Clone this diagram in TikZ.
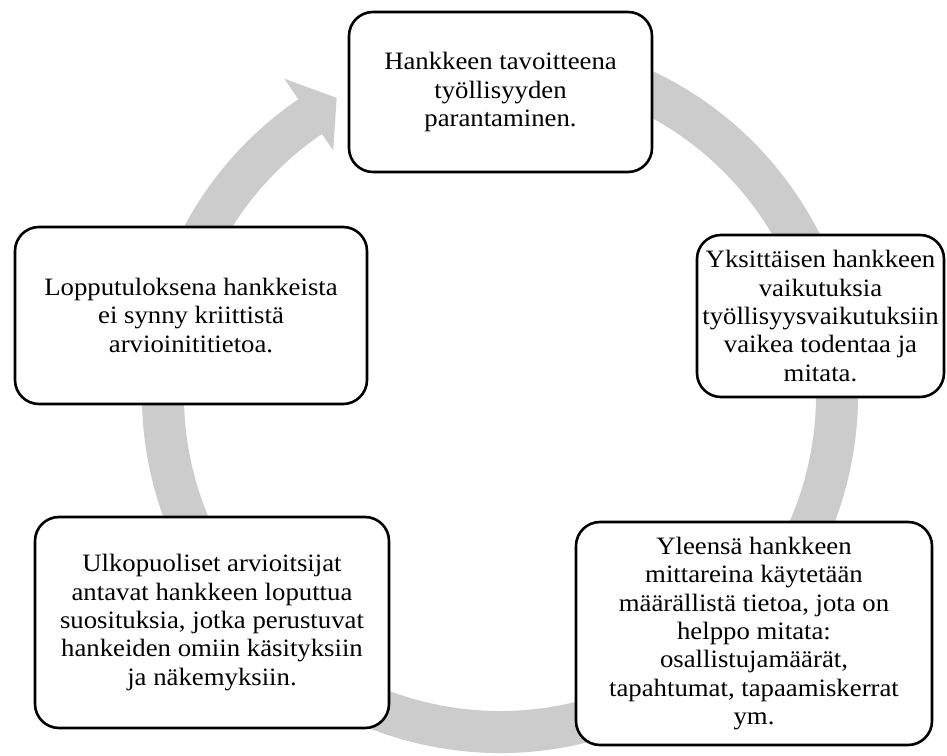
\documentclass[tikz,border=0pt]{standalone}
\usepackage{fontspec}
\setmainfont[FakeStretch=1.07]{Liberation Serif}
\usetikzlibrary{calc}
\definecolor{ringgray}{RGB}{204,204,204}
\tikzset{
  stagebox/.style={draw=black, line width=2.6pt, fill=white, rounded corners=24pt,
    align=center, inner sep=4pt, font=\fontsize{25}{28.3}\selectfont},
}
\begin{document}
\begin{tikzpicture}[x=1pt,y=1pt]
\useasboundingbox (0,0) rectangle (947,755);
\coordinate (C) at (500,360);
% ring arrow
\fill[ringgray]
  ($(C)+(78:358)$) arc[start angle=78, end angle=-235.7, radius=358]
  -- ($(C)+(124.3:383)$)
  -- ($(C)+(118.8:339)$)
  -- ($(C)+(124.3:296)$)
  -- ($(C)+(124.3:316)$)
  arc[start angle=-235.7, end angle=78, radius=316]
  -- cycle;
% boxes
\node[stagebox, minimum width=303pt, minimum height=160pt] (top) at (500.5,663)
  {Hankkeen tavoitteena\\työllisyyden\\parantaminen.};
\node[stagebox, minimum width=247pt, minimum height=162pt] (right) at (820.5,439)
  {Yksittäisen hankkeen\\vaikutuksia\\työllisyysvaikutuksiin\\vaikea todentaa ja\\mitata.};
\node[stagebox, minimum width=352pt, minimum height=177pt] (left) at (191,439.5)
  {Lopputuloksena hankkeista\\ei synny kriittistä\\arvioinititietoa.};
\node[stagebox, minimum width=354pt, minimum height=211pt] (bl) at (212,132.5)
  {Ulkopuoliset arvioitsijat\\antavat hankkeen loputtua\\suosituksia, jotka perustuvat\\hankeiden omiin käsityksiin\\ja näkemyksiin.};
\node[stagebox, minimum width=356pt, minimum height=223pt] (br) at (754,121.5)
  {Yleensä hankkeen\\mittareina käytetään\\määrällistä tietoa, jota on\\helppo mitata:\\osallistujamäärät,\\tapahtumat, tapaamiskerrat\\ym.};
\end{tikzpicture}
\end{document}
